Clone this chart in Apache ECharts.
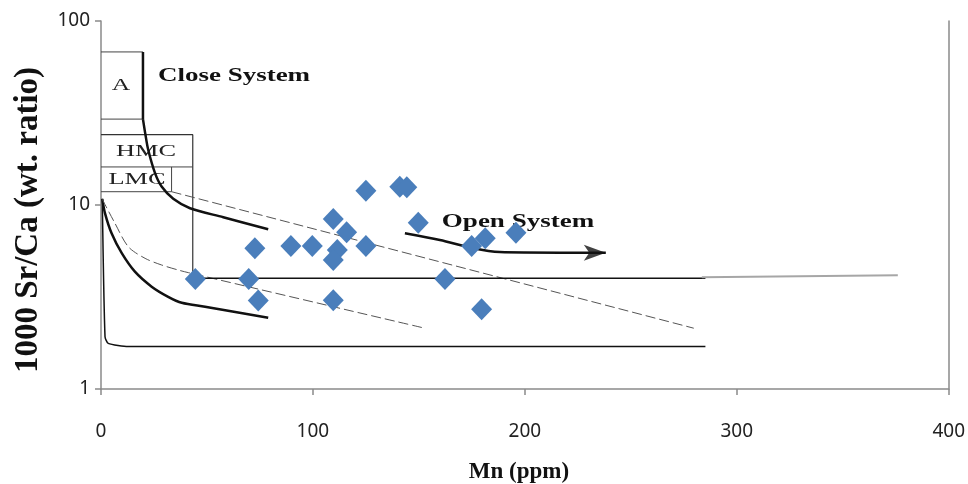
<!DOCTYPE html>
<html>
<head>
<meta charset="utf-8">
<script src="https://cdn.jsdelivr.net/npm/echarts@6/dist/echarts.min.js"></script>
<style>
    html, body { margin: 0; padding: 0; background: #fff; }
    .chart { width: 968px; height: 484px; }
</style>
</head>
<body>
<div class="chart"></div>
<script>
// samples: Mn (ppm) and 1000 Sr/Ca
var mnValues = [44.5, 69.7, 72.6, 74.2, 89.6, 99.7, 109.6, 115.9, 111.5, 109.6, 109.6,
    125.0, 125.0, 141.0, 144.3, 149.7, 162.3, 174.9, 181.3, 195.8, 179.6];
var srCaValues = [3.96, 3.96, 5.82, 3.03, 5.99, 5.99, 8.40, 7.11, 5.69, 5.02, 3.04,
    11.96, 5.99, 12.58, 12.48, 8.01, 3.96, 5.99, 6.59, 7.07, 2.71];

var xTicks = [0, 100, 200, 300, 400];
var yTicks = [1, 10, 100];

// model fields drawn on the diagram, [Mn, Sr/Ca]
var boxA = [[0, 67.9], [19.8, 67.9]];
var boxABottom = [[0, 29.3], [19.8, 29.3]];
var boxHMC = [[0, 24.1], [43.3, 24.1], [43.3, 4.0]];
var boxHMCBottom = [[0, 16.1], [43.3, 16.1]];
var boxLMC = [[33.3, 16.1], [33.3, 11.81], [0, 11.81]];
var closeEdge = [[19.8, 67.9], [19.8, 29.3]];
var closeCurve = [[19.8, 29.3], [21.0, 24.0], [22.3, 19.9], [25.5, 14.9], [28.6, 12.6],
    [34.1, 10.8], [42.0, 9.6], [57.7, 8.58], [78.9, 7.38]];
var lowerThick = [[0.6, 10.8], [1.9, 9.01], [5.0, 7.02], [9.8, 5.47], [16.0, 4.34],
    [23.9, 3.60], [31.7, 3.17], [38.1, 2.94], [49.1, 2.80], [78.9, 2.44]];
var dropLine = [[0.6, 10.8], [1.9, 1.924], [3.4, 1.77], [12.9, 1.70], [285.2, 1.70]];
var upperDashed = [[33.3, 11.81], [279.7, 2.14]];
var lowerDashed = [[0.6, 10.74], [6.6, 7.95], [12.9, 5.93], [20.8, 5.13], [28.6, 4.72],
    [36.5, 4.43], [41.2, 4.29], [152.8, 2.14]];
var flatLine = [[43.3, 4.0], [285.2, 4.0]];
var greyLine = [[283.5, 4.05], [376, 4.15]];
var openArrow = [[143.4, 7.02], [159.9, 6.45], [175.6, 5.82], [188.2, 5.55], [216.5, 5.51], [238.2, 5.51]];
var arrowHead = [[238.2, 5.51]];

(function () {
    var myChart = echarts.init(document.querySelector('.chart'));

    var points = [];
    for (var i = 0; i < mnValues.length; i++) {
        points.push([mnValues[i], srCaValues[i]]);
    }

    function figLine(data, width, color, type, smooth) {
        return {
            type: 'line',
            data: data,
            symbol: 'none',
            smooth: smooth || false,
            silent: true,
            z: 2,
            lineStyle: {
                color: color,
                width: width,
                type: type || 'solid'
            }
        };
    }

    var axisColor = '#8a8a8a';
    var serif = '"Liberation Serif", "DejaVu Serif", serif';

    var option = {
        animation: false,
        backgroundColor: '#fff',
        grid: {
            left: 101,
            right: 19,
            top: 21,
            bottom: 95
        },
        xAxis: {
            type: 'value',
            min: xTicks[0],
            max: xTicks[xTicks.length - 1],
            interval: 100,
            axisLine: { lineStyle: { color: axisColor, width: 1.5 } },
            axisTick: { length: 6, lineStyle: { color: axisColor, width: 1.5 } },
            axisLabel: {
                margin: 33,
                fontFamily: 'Noto Sans',
                fontSize: 19,
                color: '#222'
            },
            splitLine: { show: false }
        },
        yAxis: [
            {
                type: 'log',
                logBase: 10,
                min: yTicks[0],
                max: yTicks[yTicks.length - 1],
                axisLine: { show: true, lineStyle: { color: axisColor, width: 1.5 } },
                axisTick: { show: true, length: 6, lineStyle: { color: axisColor, width: 1.5 } },
                axisLabel: {
                    margin: 11,
                    fontFamily: 'Noto Sans',
                    fontSize: 19,
                    color: '#222'
                },
                splitLine: { show: false }
            },
            {
                type: 'log',
                logBase: 10,
                min: 1,
                max: 100,
                position: 'right',
                axisLine: { show: true, lineStyle: { color: axisColor, width: 1.5 } },
                axisTick: { show: false },
                axisLabel: { show: false },
                splitLine: { show: false }
            }
        ],
        graphic: [
            // axis titles
            { type: 'text', x: 519, y: 472, style: { text: 'Mn (ppm)', font: 'bold 23px ' + serif, fill: '#111', textAlign: 'center', textVerticalAlign: 'middle' } },
            { type: 'text', x: 28, y: 220, rotation: Math.PI / 2, style: { text: '1000 Sr/Ca (wt. ratio)', font: 'bold 33px ' + serif, fill: '#111', textAlign: 'center', textVerticalAlign: 'middle' } },
            // field labels
            { type: 'text', x: 234, y: 76, scaleX: 1.5, style: { text: 'Close System', font: 'bold 18px ' + serif, fill: '#111', textAlign: 'center', textVerticalAlign: 'middle' } },
            { type: 'text', x: 518, y: 222, scaleX: 1.5, style: { text: 'Open System', font: 'bold 18px ' + serif, fill: '#111', textAlign: 'center', textVerticalAlign: 'middle' } },
            { type: 'text', x: 121, y: 86, scaleX: 1.5, style: { text: 'A', font: '17px ' + serif, fill: '#222', textAlign: 'center', textVerticalAlign: 'middle' } },
            { type: 'text', x: 146, y: 152, scaleX: 1.55, style: { text: 'HMC', font: '17px ' + serif, fill: '#222', textAlign: 'center', textVerticalAlign: 'middle' } },
            { type: 'text', x: 137, y: 180, scaleX: 1.55, style: { text: 'LMC', font: '17px ' + serif, fill: '#222', textAlign: 'center', textVerticalAlign: 'middle' } }
        ],
        series: [
            figLine(boxA, 1, '#444'),
            figLine(boxABottom, 1, '#444'),
            figLine(boxHMC, 1.2, '#333'),
            figLine(boxHMCBottom, 1, '#444'),
            figLine(boxLMC, 1, '#444'),
            figLine(closeEdge, 2.5, '#111'),
            figLine(closeCurve, 2.5, '#111', 'solid', 0.3),
            figLine(lowerThick, 2.5, '#111', 'solid', 0.3),
            figLine(dropLine, 1.5, '#111', 'solid', 0.2),
            figLine(upperDashed, 1, '#555', [10, 4]),
            figLine(lowerDashed, 1, '#555', [10, 4], 0.3),
            figLine(flatLine, 1.5, '#111'),
            figLine(greyLine, 2, '#a6a6a6'),
            figLine(openArrow, 2.5, '#111', 'solid', 0.3),
            {
                type: 'scatter',
                data: arrowHead,
                symbol: 'arrow',
                symbolSize: [12, 22],
                symbolRotate: -90,
                silent: true,
                z: 3,
                itemStyle: { color: '#111' }
            },
            {
                name: 'samples',
                type: 'scatter',
                data: points,
                symbol: 'diamond',
                symbolSize: [21, 22],
                z: 5,
                itemStyle: { color: '#4a7ebb', opacity: 1 }
            }
        ]
    };
    myChart.setOption(option);
    window.addEventListener('resize', function () {
        myChart.resize();
    });
})();
</script>
</body>
</html>
